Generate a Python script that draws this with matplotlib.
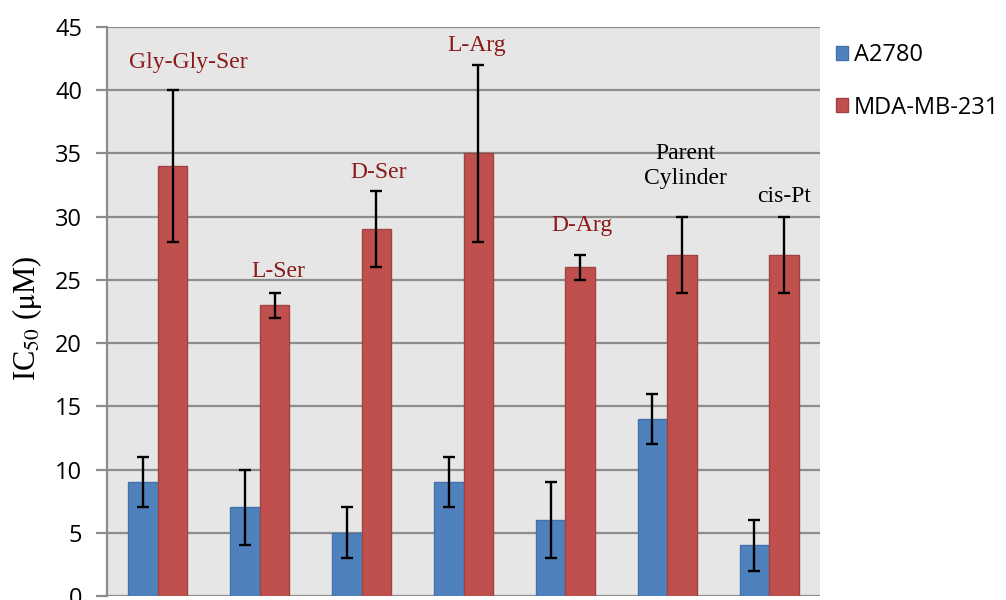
import matplotlib
matplotlib.use("Agg")
import matplotlib.pyplot as plt
import numpy as np

# Compounds (groups along x)
compounds = ["Gly-Gly-Ser", "L-Ser", "D-Ser", "L-Arg", "D-Arg", "Parent\nCylinder", "cis-Pt"]
series_names = ["A2780", "MDA-MB-231"]

# IC50 values (µM) and their errors
a2780 = [9, 7, 5, 9, 6, 14, 4]
a2780_err = [2, 3, 2, 2, 3, 2, 2]
mda = [34, 23, 29, 35, 26, 27, 27]
mda_err = [6, 1, 3, 7, 1, 3, 3]

# Annotation heights (µM) above each group
label_y = [42.2, 25.7, 33.5, 43.5, 29.3, 34.0, 31.6]
label_dx = [0.295, 0.178, 0.17, 0.13, 0.16, 0.18, 0.15]
label_colors = ["#8B1A1A"] * 5 + ["black", "black"]

plt.rcParams["mathtext.fontset"] = "stix"

fig = plt.figure(figsize=(10.06, 6.0), dpi=100)
ax = fig.add_axes([107 / 1006, 4 / 600, 713 / 1006, 569 / 600])
ax.set_facecolor("#E6E6E6")

x = np.arange(len(compounds))
w = 0.29
ax.bar(x - w / 2, a2780, width=w, color="#4F81BD", edgecolor="#4372AA",
       linewidth=1, label=series_names[0], zorder=3)
ax.bar(x + w / 2, mda, width=w, color="#C0504D", edgecolor="#A04341",
       linewidth=1, label=series_names[1], zorder=3)
ax.errorbar(x - w / 2, a2780, yerr=a2780_err, fmt="none", ecolor="black",
            elinewidth=1.7, capsize=4.3, capthick=1.7, zorder=4)
ax.errorbar(x + w / 2, mda, yerr=mda_err, fmt="none", ecolor="black",
            elinewidth=1.7, capsize=4.3, capthick=1.7, zorder=4)

for xi, dx, yv, txt, c in zip(x, label_dx, label_y, compounds, label_colors):
    ax.text(xi + dx, yv, txt, ha="center", va="center", color=c,
            fontfamily="Liberation Serif", fontsize=17, linespacing=1.2, zorder=5)

ax.set_xlim(-0.5, len(compounds) - 0.5)
ax.set_ylim(0, 45)
ax.set_yticks(np.arange(0, 46, 5))
ax.set_xticks([])
ax.yaxis.grid(True, color="#8C8C8C", linewidth=1.6, zorder=1)
ax.set_axisbelow(True)
for side in ["top", "right", "bottom"]:
    ax.spines[side].set_visible(False)
ax.spines["left"].set_color("#8C8C8C")
ax.spines["left"].set_linewidth(1.6)
ax.tick_params(axis="y", length=8, width=1.6, color="#8C8C8C",
               labelsize=17, pad=10)
for lbl in ax.get_yticklabels():
    lbl.set_fontfamily("Open Sans")

ax.set_ylabel(r"IC$_{50}$ ($\mathrm{\mu}$M)", fontfamily="Liberation Serif",
              fontsize=22)
ax.yaxis.set_label_coords(-0.088, 0.488)

fig.legend(loc="upper left", bbox_to_anchor=(815 / 1006, 1 - 22 / 600),
           frameon=False, handlelength=0.5, handleheight=0.5,
           handletextpad=0.25, labelspacing=1.2, prop={"family": "Open Sans", "size": 17})

fig.savefig("out.png", dpi=100)
